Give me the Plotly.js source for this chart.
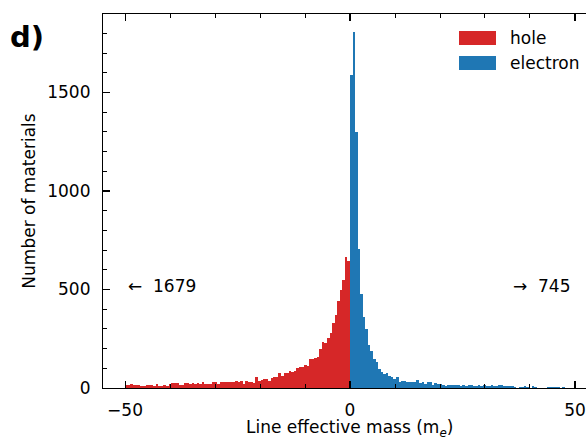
<!DOCTYPE html>
<html>
<head>
<meta charset="utf-8">
<script src="https://cdn.plot.ly/plotly-3.0.1.min.js"></script>
<style>html,body{margin:0;padding:0;background:#fff;}#chart{width:586px;height:440px;}</style>
</head>
<body>
<div id="chart"></div>
<script>
// Histogram bins: 88 bins on each side of zero, spanning [-50, 0] and [0, 50]
const binsPerSide = 88;
const binLow = -50;
const binHigh = 50;

// hole counts, ordered from -50 up to 0
const holeCounts = [
  13, 13, 18, 13, 13, 13, 9, 9, 13, 13,
  13, 9, 18, 9, 9, 13, 9, 18, 23, 23,
  23, 13, 13, 23, 23, 18, 23, 18, 23, 18,
  28, 21, 21, 21, 28, 28, 21, 33, 28, 28,
  33, 33, 33, 38, 28, 38, 18, 38, 33, 33,
  23, 58, 38, 43, 48, 48, 38, 53, 58, 58,
  74, 63, 74, 74, 84, 79, 85, 99, 109, 109,
  119, 114, 145, 145, 151, 155, 199, 236, 227, 255,
  279, 330, 368, 444, 495, 546, 667, 642
];

// electron counts, ordered from 0 up to 50
const electronCounts = [
  1586, 1806, 1300, 707, 475, 359, 297, 216, 190, 145,
  130, 94, 79, 69, 74, 63, 58, 48, 58, 33,
  35, 38, 33, 33, 28, 28, 43, 23, 28, 20,
  28, 28, 13, 23, 18, 18, 13, 8, 13, 13,
  13, 13, 13, 8, 13, 8, 13, 13, 8, 8,
  13, 8, 13, 8, 8, 13, 8, 8, 13, 13,
  10, 8, 8, 8, 3, 2, 6, 4, 12, 3,
  2, 12, 3, 2, 1, 2, 2, 6, 7, 7,
  7, 3, 2, 7, 1, 1, 1, 1
];

const seriesNames = ["hole", "electron"];
const outOfRange = ["\u2190\u00a0\u00a01679", "\u2192\u00a0\u00a0745"];
const xTitle = "Line effective mass (m<sub><i>e</i></sub>)";
const yTitle = "Number of materials";

const w = (binHigh - 0) / binsPerSide;
const holeX = holeCounts.map((_, i) => binLow + (i + 0.5) * w);
const elecX = electronCounts.map((_, i) => 0 + (i + 0.5) * w);

const RED = "#d62728", BLUE = "#1f77b4";
const FONT = "DejaVu Sans, sans-serif";
const FS = 17;

const traces = [
  {type: "bar", x: holeX, y: holeCounts, width: w, name: seriesNames[0],
   marker: {color: RED, line: {width: 0}}, showlegend: false, hoverinfo: "x+y"},
  {type: "bar", x: elecX, y: electronCounts, width: w, name: seriesNames[1],
   marker: {color: BLUE, line: {width: 0}}, showlegend: false, hoverinfo: "x+y"}
];

// plot area in pixels
const L = 103, R = 586, T = 14, B = 388;
const px = v => (v - L) / (R - L);
const py = v => (B - v) / (B - T);

const layout = {
  width: 586, height: 440,
  margin: {l: L, r: 586 - R, t: T, b: 440 - B, pad: 0},
  paper_bgcolor: "#fff", plot_bgcolor: "#fff",
  font: {family: FONT, size: FS, color: "#000"},
  bargap: 0, barmode: "overlay",
  showlegend: false,
  xaxis: {
    range: [-54.9, 52.45], showgrid: false, zeroline: false,
    showline: true, linecolor: "#000", linewidth: 1.1, mirror: "ticks",
    ticks: "inside", ticklen: 7, tickwidth: 1.1, tickcolor: "#000",
    tick0: 0, dtick: 50, ticklabelstandoff: 6,
    minor: {dtick: 10, tick0: 0, ticks: "inside", ticklen: 4, tickwidth: 1, tickcolor: "#000"},
    tickfont: {family: FONT, size: FS}
  },
  yaxis: {
    range: [0, 1898], showgrid: false, zeroline: false,
    showline: true, linecolor: "#000", linewidth: 1.1, mirror: false,
    ticks: "inside", ticklen: 7, tickwidth: 1.1, tickcolor: "#000",
    tick0: 0, dtick: 500, ticklabelstandoff: 8,
    minor: {dtick: 100, tick0: 0, ticks: "inside", ticklen: 4, tickwidth: 1, tickcolor: "#000"},
    tickfont: {family: FONT, size: FS},
    title: {text: yTitle, font: {family: FONT, size: FS}, standoff: 7}
  },
  shapes: [
    {type: "rect", xref: "paper", yref: "paper", x0: px(459), x1: px(496), y0: py(45), y1: py(31),
     fillcolor: RED, line: {width: 0}},
    {type: "rect", xref: "paper", yref: "paper", x0: px(459), x1: px(496), y0: py(70), y1: py(56),
     fillcolor: BLUE, line: {width: 0}}
  ],
  annotations: [
    {text: xTitle, xref: "paper", yref: "paper", x: px(349), y: py(428.5), borderpad: 0,
     xanchor: "center", yanchor: "middle", showarrow: false, font: {family: FONT, size: FS}},
    {text: seriesNames[0], xref: "paper", yref: "paper", x: px(508), y: py(38),
     xanchor: "left", yanchor: "middle", showarrow: false, font: {family: FONT, size: FS}},
    {text: seriesNames[1], xref: "paper", yref: "paper", x: px(508), y: py(63),
     xanchor: "left", yanchor: "middle", showarrow: false, font: {family: FONT, size: FS}},
    {text: outOfRange[0], xref: "paper", yref: "paper", x: px(126), y: py(286),
     xanchor: "left", yanchor: "middle", showarrow: false, font: {family: FONT, size: FS}},
    {text: outOfRange[1], xref: "paper", yref: "paper", x: px(511), y: py(286),
     xanchor: "left", yanchor: "middle", showarrow: false, font: {family: FONT, size: FS}},
    {text: "<b>d)</b>", xref: "paper", yref: "paper", x: px(8), y: py(37),
     xanchor: "left", yanchor: "middle", showarrow: false, font: {family: FONT, size: 29}}
  ]
};

Plotly.newPlot("chart", traces, layout, {displayModeBar: false, staticPlot: true});
</script>
</body>
</html>
